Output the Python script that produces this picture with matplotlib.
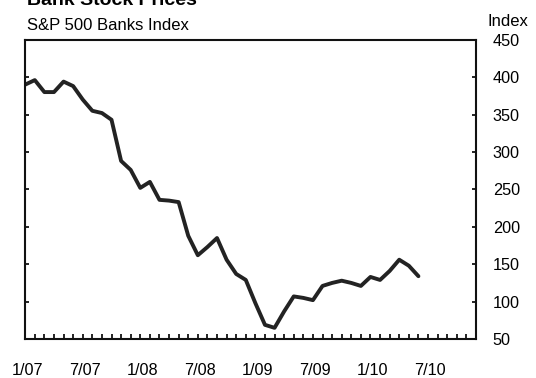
import matplotlib.pyplot as plt
from matplotlib.transforms import ScaledTranslation

plt.rcParams['font.family'] = ['Liberation Sans', 'DejaVu Sans']

# Monthly index values, Jan 2007 through Jun 2010
months = list(range(42))
banks_index = [390, 396, 380, 380, 394, 388, 370, 355, 352, 343,
               288, 276, 252, 260, 236, 235, 233, 188, 162, 173,
               185, 156, 137, 129, 98, 69, 65, 87, 107, 105,
               102, 121, 125, 128, 125, 121, 133, 129, 141, 156,
               148, 134]

date_ticks = [0, 6, 12, 18, 24, 30, 36, 42]
date_labels = ['1/07', '7/07', '1/08', '7/08', '1/09', '7/09', '1/10', '7/10']
y_ticks = [50, 100, 150, 200, 250, 300, 350, 400, 450]

fig = plt.figure(figsize=(5.36, 3.78), dpi=100)
ax = fig.add_axes([0.047, 0.103, 0.841, 0.792])

ax.plot(months, banks_index, color='#232323', linewidth=2.8,
        solid_joinstyle='round', solid_capstyle='round')

ax.set_xlim(0, 47)
ax.set_ylim(50, 450)

ax.set_xticks(date_ticks)
ax.set_xticklabels(date_labels)
ax.set_xticks(range(48), minor=True)
ax.tick_params(axis='x', which='both', direction='in', length=3.5,
               width=1.2, labelsize=11.7, pad=17)
# nudge the date labels a little to the right
shift = ScaledTranslation(2 / 100, 0, fig.dpi_scale_trans)
for lbl in ax.get_xticklabels():
    lbl.set_transform(lbl.get_transform() + shift)

ax.yaxis.tick_right()
ax.set_yticks(y_ticks)
ax.tick_params(axis='y', which='both', direction='in', length=3,
               width=1.2, labelsize=11.7, pad=12, left=True, right=True)
ax.tick_params(axis='y', labelleft=False, labelright=True)

for side in ax.spines.values():
    side.set_linewidth(1.5)
    side.set_color('#111111')

fig.text(27 / 536, 1 - 5 / 378, 'Bank Stock Prices', fontsize=14,
         fontweight='bold', ha='left', va='baseline')
fig.text(27 / 536, 1 - 30 / 378, 'S&P 500 Banks Index', fontsize=12,
         ha='left', va='baseline')
fig.text(508 / 536, 1 - 26 / 378, 'Index', fontsize=12,
         ha='center', va='baseline')

fig.savefig('out.png', dpi=100)
